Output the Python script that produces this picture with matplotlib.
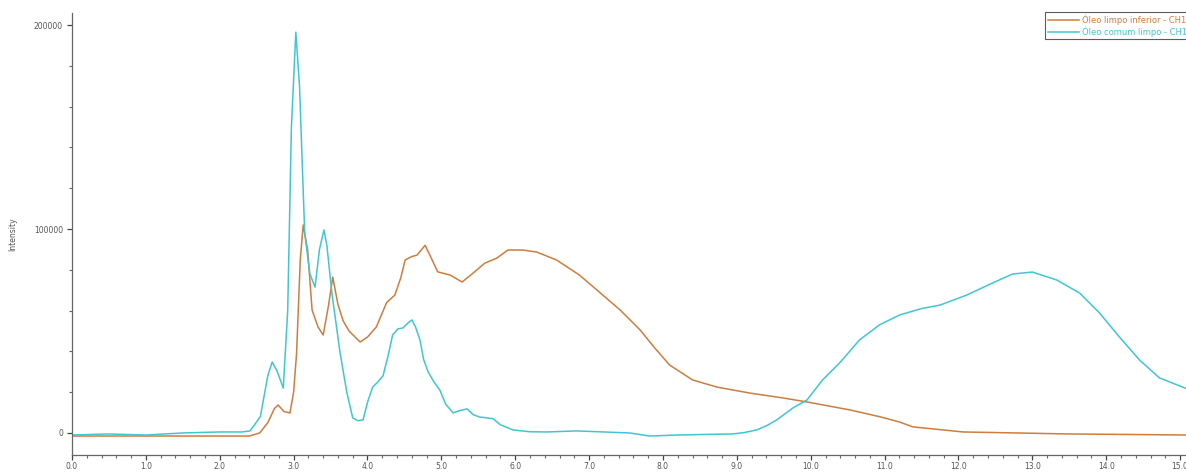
import matplotlib
matplotlib.use("Agg")
import matplotlib.pyplot as plt
from matplotlib.ticker import MultipleLocator, FixedLocator

# ---- data ----
cyan_label = "Óleo comum limpo - CH1"
cyan_x = [0.0, 0.5, 1.0, 1.5, 2.0, 2.3, 2.41, 2.55, 2.65, 2.71, 2.78, 2.86, 2.92, 2.97,
          3.03, 3.08, 3.15, 3.22, 3.29, 3.35, 3.41, 3.45, 3.52, 3.63, 3.72, 3.80, 3.87,
          3.94, 4.0, 4.07, 4.14, 4.21, 4.28, 4.34, 4.41, 4.48, 4.55, 4.60, 4.65, 4.71,
          4.76, 4.82, 4.90, 4.98, 5.06, 5.16, 5.25, 5.35, 5.43, 5.52, 5.62, 5.70, 5.80,
          5.97, 6.2, 6.43, 6.83, 7.2, 7.55, 7.82, 8.2, 8.6, 8.94, 9.1, 9.27, 9.40, 9.54,
          9.76, 9.95, 10.16, 10.39, 10.66, 10.93, 11.20, 11.50, 11.75, 12.11, 12.46,
          12.73, 13.00, 13.33, 13.64, 13.91, 14.18, 14.45, 14.72, 15.07]
cyan_y = [-1000, -500, -1000, 0, 500, 500, 1000, 8000, 28000, 34800, 30000, 22000, 60000,
          150000, 196500, 170000, 98000, 78000, 71500, 90000, 99500, 92000, 68000, 39000,
          20000, 7400, 6000, 6400, 15000, 22500, 25000, 28000, 38000, 48000, 51000, 51500,
          54000, 55400, 52000, 45600, 36000, 30000, 25000, 21000, 14000, 9800, 11000,
          11800, 9000, 7800, 7400, 7000, 4000, 1500, 600, 500, 1000, 500, 0, -1500, -1000,
          -700, -500, 200, 1500, 3500, 6400, 12300, 16200, 26000, 34300, 45600, 53000,
          57800, 61000, 62700, 67600, 73500, 77900, 78900, 75000, 68600, 58800, 47000,
          35800, 27000, 22000]

orange_label = "Óleo limpo inferior - CH1"
orange_x = [0.0, 1.0, 2.0, 2.4, 2.54, 2.65, 2.74, 2.79, 2.87, 2.95, 3.00, 3.04, 3.09, 3.13,
            3.19, 3.25, 3.33, 3.40, 3.47, 3.53, 3.60, 3.67, 3.75, 3.90, 4.00, 4.12, 4.26,
            4.37, 4.45, 4.51, 4.60, 4.67, 4.78, 4.86, 4.95, 5.12, 5.28, 5.43, 5.59, 5.75,
            5.90, 6.10, 6.29, 6.56, 6.87, 7.14, 7.42, 7.69, 7.89, 8.09, 8.40, 8.73, 9.17,
            9.62, 9.95, 10.53, 10.93, 11.20, 11.38, 12.06, 12.8, 13.5, 14.2, 15.07]
orange_y = [-1500, -1500, -1500, -1500, 0, 5000, 12000, 13700, 10500, 9800, 20000, 39000,
            85000, 102000, 89700, 60300, 52000, 48000, 62000, 76400, 63000, 55000, 50000,
            44600, 47000, 52000, 64000, 67600, 76000, 84800, 86500, 87200, 92000, 86000,
            79000, 77400, 74000, 78400, 83300, 85700, 89700, 89700, 88700, 84800, 77400,
            69000, 60300, 50500, 41600, 33300, 26000, 22500, 19600, 17200, 15200, 11300,
            8000, 5400, 3000, 500, 0, -500, -700, -1000]

y_major = [0, 100000, 200000]
y_labels = ["0", "100000", "200000"]
x_major = [float(i) for i in range(16)]
x_labels = [f"{v:.1f}" for v in x_major]

ORANGE = "#cd7d3f"
CYAN = "#3fc6d2"
GREY = "#555555"

fig = plt.figure(figsize=(11.86, 4.73), dpi=100)
ax = fig.add_axes([72 / 1186, 18 / 473, 1114 / 1186, 442 / 473])

ax.plot(orange_x, orange_y, color=ORANGE, lw=1.1, label=orange_label)
ax.plot(cyan_x, cyan_y, color=CYAN, lw=1.1, label=cyan_label)

ax.set_xlim(0, 15.08)
ax.set_ylim(-10800, 205900)

for s in ["top", "right"]:
    ax.spines[s].set_visible(False)
for s in ["left", "bottom"]:
    ax.spines[s].set_color("#666666")
    ax.spines[s].set_linewidth(0.9)

ax.yaxis.set_major_locator(FixedLocator(y_major))
ax.set_yticklabels(y_labels)
ax.yaxis.set_minor_locator(MultipleLocator(20000))
ax.xaxis.set_major_locator(FixedLocator(x_major))
ax.set_xticklabels(x_labels)
ax.xaxis.set_minor_locator(MultipleLocator(0.2))

ax.tick_params(axis="both", which="major", direction="out", length=3.5, width=0.9,
               color="#444444", labelsize=5.5, labelcolor=GREY)
ax.tick_params(axis="x", which="major", pad=1.5)
ax.tick_params(axis="y", which="major", pad=3)
ax.tick_params(axis="both", which="minor", direction="out", length=2.2, width=0.8,
               color="#666666")

ax.set_ylabel("Intensity", fontsize=5.5, color=GREY, labelpad=12)

leg = fig.legend(loc="upper left", bbox_to_anchor=(1045 / 1186, 1 - 12 / 473),
                 fontsize=6, frameon=True, fancybox=False, handlelength=3.8,
                 handletextpad=0.4, borderpad=0.3, labelspacing=0.15,
                 borderaxespad=0)
leg.get_frame().set_edgecolor("#333333")
leg.get_frame().set_linewidth(0.8)
for txt, c in zip(leg.get_texts(), [ORANGE, CYAN]):
    txt.set_color(c)

fig.savefig("out.png", dpi=100)
